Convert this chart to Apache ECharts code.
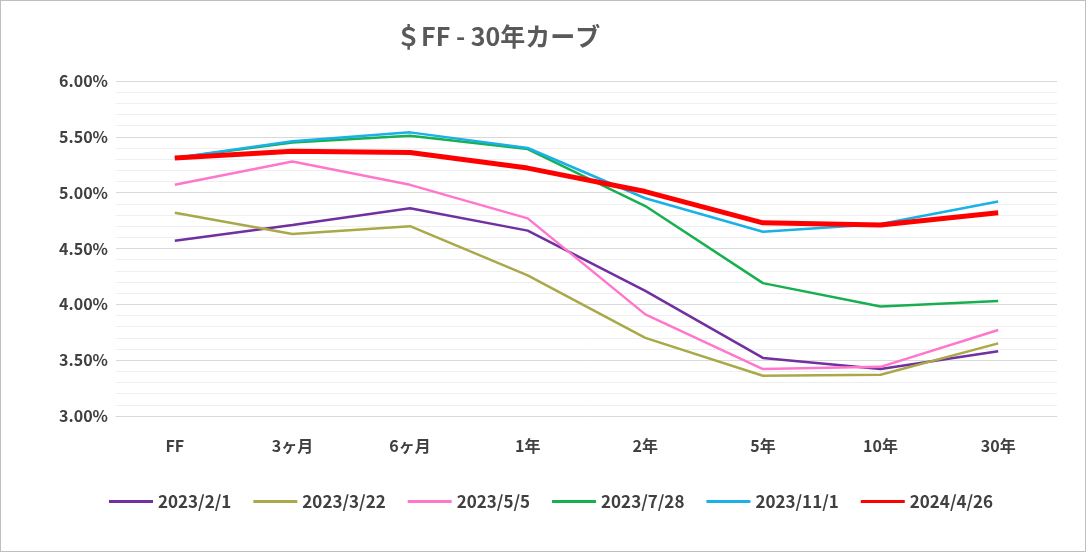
<!DOCTYPE html>
<html><head><meta charset="utf-8">
<script src="https://cdn.jsdelivr.net/npm/echarts@6/dist/echarts.min.js"></script>
<style>html,body{margin:0;background:#fff}#c{width:1084px;height:550px;border:1px solid #bfbfbf}</style>
</head><body><div id="c"></div>
<script>
var categories = ['FF','3ヶ月','6ヶ月','1年','2年','5年','10年','30年'];
var d20230201 = [4.57,4.71,4.86,4.66,4.12,3.52,3.42,3.58];
var d20230322 = [4.82,4.63,4.70,4.26,3.70,3.36,3.37,3.65];
var d20230505 = [5.07,5.28,5.07,4.77,3.91,3.42,3.44,3.77];
var d20230728 = [5.31,5.45,5.51,5.39,4.88,4.19,3.98,4.03];
var d20231101 = [5.31,5.46,5.54,5.40,4.95,4.65,4.72,4.92];
var d20240426 = [5.31,5.37,5.36,5.22,5.01,4.73,4.71,4.82];

function line(name, data, color, w) {
	return {name: name, type: 'line', data: data, symbol: 'none', color: color,
		lineStyle: {width: w, color: color}, z: w > 3 ? 10 : 2};
}
var chart = echarts.init(document.getElementById('c'));
chart.setOption({
	textStyle: {fontFamily: 'Noto Sans CJK JP'},
	title: {text: '＄FF - 30年カーブ', left: 390, top: 18,
		textStyle: {fontSize: 25, fontWeight: 'bold', color: '#595959'}},
	legend: {bottom: 36, left: 103, itemWidth: 44, itemHeight: 3, itemGap: 22, icon: 'rect',
		textStyle: {fontSize: 17, fontWeight: 'bold', color: '#404040'}},
	grid: {left: 115, right: 28, top: 80, bottom: 135},
	xAxis: {type: 'category', data: categories,
		axisLine: {lineStyle: {color: '#d9d9d9'}}, axisTick: {show: false},
		axisLabel: {fontSize: 16, fontWeight: 'bold', color: '#404040', margin: 22}},
	yAxis: {type: 'value', min: 3, max: 6, interval: 0.5,
		axisLabel: {fontSize: 16, fontWeight: 'bold', color: '#404040', formatter: v => v.toFixed(2) + '%'},
		splitLine: {lineStyle: {color: '#d9d9d9'}},
		minorTick: {show: false, splitNumber: 5},
		minorSplitLine: {show: true, lineStyle: {color: '#efefef'}}},
	series: [
		line('2023/2/1', d20230201, '#7030a0', 2.5),
		line('2023/3/22', d20230322, '#a9a949', 2.5),
		line('2023/5/5', d20230505, '#ff77cc', 2.5),
		line('2023/7/28', d20230728, '#17b050', 2.5),
		line('2023/11/1', d20231101, '#1ab0e8', 2.5),
		line('2024/4/26', d20240426, '#ff0000', 5)
	]
});
</script></body></html>
